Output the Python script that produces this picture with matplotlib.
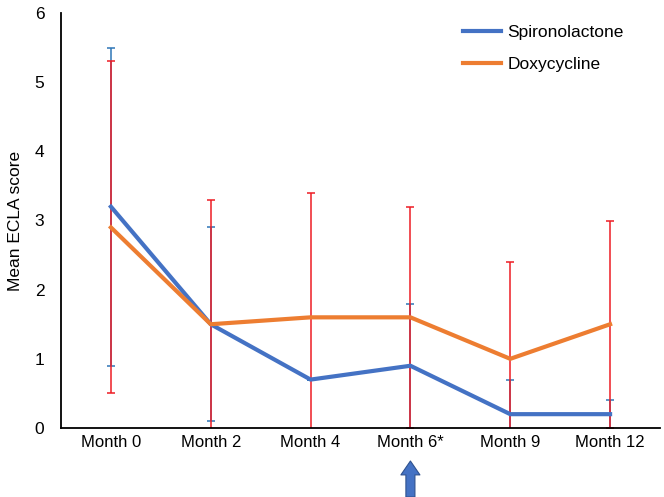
import numpy as np
import matplotlib.pyplot as plt

plt.rcParams['font.family'] = ['Liberation Sans', 'DejaVu Sans']

months = ['Month 0', 'Month 2', 'Month 4', 'Month 6*', 'Month 9', 'Month 12']
spiro = [3.2, 1.5, 0.7, 0.9, 0.2, 0.2]
spiro_err = [2.3, 1.4, 0.0, 0.9, 0.5, 0.2]
doxy = [2.9, 1.5, 1.6, 1.6, 1.0, 1.5]
doxy_err = [2.4, 1.8, 1.8, 1.6, 1.4, 1.5]

blue = '#4472C4'
orange = '#ED7D31'
red = '#EE1C25'

fig = plt.figure(figsize=(6.64, 4.97), dpi=100)
ax = fig.add_axes([61/664, 1-428/497, 599/664, 415/497])

x = np.arange(len(months))

# error bars first (blue under red), lines on top
ax.errorbar(x, spiro, yerr=spiro_err, fmt='none', ecolor='#2E75B6',
            elinewidth=1.1, capsize=3, capthick=1.1, zorder=1)
ax.errorbar(x, doxy, yerr=doxy_err, fmt='none', ecolor=red,
            elinewidth=1.1, capsize=3, capthick=1.1, zorder=2)
ax.plot(x, spiro, color=blue, lw=3, label='Spironolactone', zorder=3)
ax.plot(x, doxy, color=orange, lw=3, label='Doxycycline', zorder=4)

ax.set_xlim(-0.5, 5.5)
ax.set_ylim(0, 6)
ax.set_xticks(x)
ax.set_xticklabels(months)
ax.set_yticks(range(0, 7))
ax.tick_params(axis='y', length=0, labelsize=12.5, pad=12)
ax.tick_params(axis='x', length=0, labelsize=12, pad=5)
ax.spines['top'].set_visible(False)
ax.spines['right'].set_visible(False)
ax.spines['left'].set_linewidth(1.3)
ax.spines['bottom'].set_linewidth(1.3)
ax.set_ylabel('Mean ECLA score', fontsize=12.5, labelpad=8)

ax.legend(loc='upper left', bbox_to_anchor=(0.645, 1.01), frameon=False,
          fontsize=12.5, handlelength=2.2, handletextpad=0.35, labelspacing=1.0)

# arrow under Month 6
ax.annotate('', xy=(3, 497-461), xytext=(3, 0),
            xycoords=('data', 'figure pixels'), textcoords=('data', 'figure pixels'),
            arrowprops=dict(arrowstyle='simple,head_length=1.0,head_width=1.37,tail_width=0.65',
                            fc=blue, ec='#2F528F', lw=0.8, shrinkA=0, shrinkB=0,
                            mutation_scale=10))

fig.savefig('out.png', dpi=100)
